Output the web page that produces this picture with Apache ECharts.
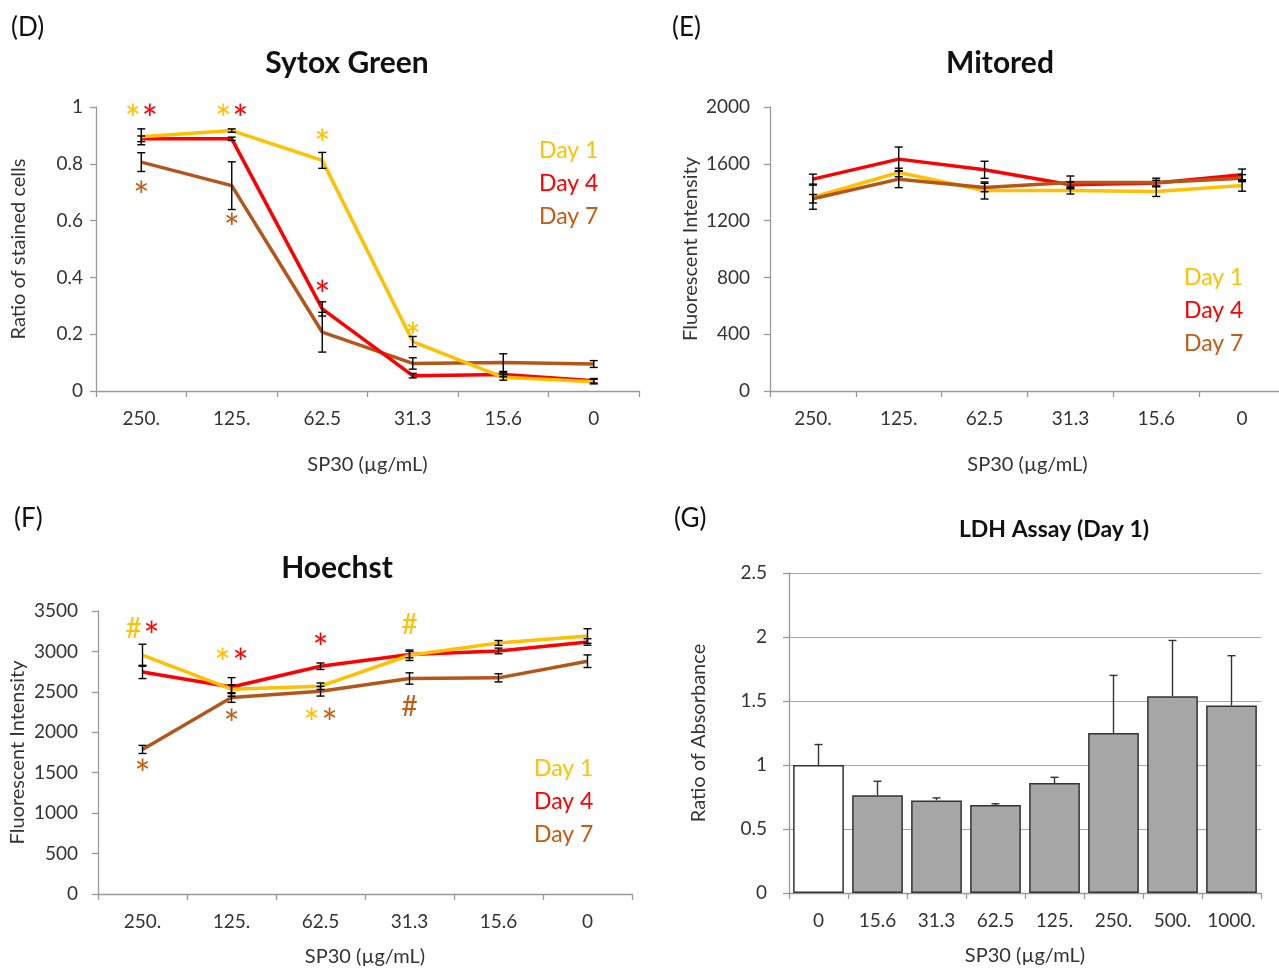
<!DOCTYPE html>
<html><head><meta charset="utf-8">
<script src="https://cdn.jsdelivr.net/npm/echarts@6/dist/echarts.min.js"></script>
<style>html,body{margin:0;padding:0;background:#fff}#c{width:1279px;height:970px}</style>
</head><body><div id="c"></div>
<script>
// ---------- data ----------
const doseCats = ['250.', '125.', '62.5', '31.3', '15.6', '0'];
const dayNames = ['Day 1', 'Day 4', 'Day 7'];

// (D) Sytox Green – ratio of stained cells
const sytoxDay1 = [0.895, 0.917, 0.812, 0.174, 0.048, 0.033];
const sytoxDay4 = [0.888, 0.888, 0.289, 0.054, 0.058, 0.036];
const sytoxDay7 = [0.806, 0.723, 0.207, 0.097, 0.100, 0.095];
const sytoxErr1 = [0.028, 0.006, 0.028, 0.018, 0.010, 0.008];
const sytoxErr4 = [0.010, 0.006, 0.025, 0.008, 0.008, 0.008];
const sytoxErr7 = [0.033, 0.084, 0.070, 0.020, 0.031, 0.012];
const sytoxMarks = [
  ['250.', 0.982, '*', 'Day 1'], ['250.', 0.982, '*', 'Day 4'],
  ['125.', 0.985, '*', 'Day 1'], ['125.', 0.985, '*', 'Day 4'],
  ['62.5', 0.894, '*', 'Day 1'],
  ['250.', 0.711, '*', 'Day 7'], ['125.', 0.599, '*', 'Day 7'],
  ['62.5', 0.363, '*', 'Day 4'], ['31.3', 0.215, '*', 'Day 1']
];

// (E) Mitored – fluorescent intensity
const mitoDay1 = [1365, 1539, 1412, 1412, 1405, 1447];
const mitoDay4 = [1492, 1633, 1558, 1452, 1464, 1523];
const mitoDay7 = [1354, 1492, 1433, 1469, 1469, 1499];
const mitoErr1 = [85, 30, 60, 25, 35, 40];
const mitoErr4 = [35, 85, 60, 20, 20, 40];
const mitoErr7 = [30, 60, 30, 45, 30, 25];

// (F) Hoechst – fluorescent intensity
const hoeDay1 = [2953, 2533, 2570, 2953, 3105, 3191];
const hoeDay4 = [2746, 2561, 2817, 2961, 3006, 3117];
const hoeDay7 = [1788, 2430, 2508, 2665, 2673, 2879];
const hoeErr1 = [136, 54, 40, 65, 30, 90];
const hoeErr4 = [82, 115, 40, 40, 35, 40];
const hoeErr7 = [50, 60, 60, 70, 50, 78];
const hoechstMarks = [
  ['250.', 3280, '#', 'Day 1'], ['250.', 3280, '*', 'Day 4'],
  ['125.', 2944, '*', 'Day 1'], ['125.', 2944, '*', 'Day 4'],
  ['125.', 2199, '*', 'Day 7'], ['250.', 1573, '*', 'Day 7'],
  ['62.5', 3138, '*', 'Day 4'],
  ['62.5', 2211, '*', 'Day 1'], ['62.5', 2211, '*', 'Day 7'],
  ['31.3', 3323, '#', 'Day 1'], ['31.3', 2314, '#', 'Day 7']
];

// (G) LDH assay (Day 1)
const ldhCats = ['0', '15.6', '31.3', '62.5', '125.', '250.', '500.', '1000.'];
const ldhVals = [1.00, 0.763, 0.723, 0.687, 0.859, 1.25, 1.538, 1.464];
const ldhErr  = [0.16, 0.11, 0.02, 0.01, 0.045, 0.45, 0.435, 0.39];

// ---------- style ----------
const FONT = 'Lato';
const TXT = '#333';
const AX = '#9a9a9a';
const lineCol = {'Day 1': '#FFC000', 'Day 4': '#FF0000', 'Day 7': '#B4561A'};
const textCol = {'Day 1': '#FFC000', 'Day 4': '#FF0000', 'Day 7': '#C55A11'};

function lineSeries(name, data, idx) {
  return {type: 'line', name, data, xAxisIndex: idx, yAxisIndex: idx, symbol: 'none',
    lineStyle: {width: 3.5, color: lineCol[name]}, itemStyle: {color: lineCol[name]}, z: 2};
}
function errSeries(vals, errs, idx, oneSided, color) {
  return {type: 'custom', xAxisIndex: idx, yAxisIndex: idx, z: 5, silent: true,
    data: vals.map((v, i) => [i, v, errs[i]]),
    encode: {x: 0, y: 1},
    renderItem(params, api) {
      const i = api.value(0), v = api.value(1), e = api.value(2);
      const lo = api.coord([i, oneSided ? v : v - e]);
      const hi = api.coord([i, v + e]);
      const w = 4;
      const st = {stroke: color || '#000', lineWidth: 1.4};
      const ch = [
        {type: 'line', shape: {x1: hi[0], y1: hi[1], x2: lo[0], y2: lo[1]}, style: st},
        {type: 'line', shape: {x1: hi[0] - w, y1: hi[1], x2: hi[0] + w, y2: hi[1]}, style: st}
      ];
      if (!oneSided) ch.push({type: 'line', shape: {x1: lo[0] - w, y1: lo[1], x2: lo[0] + w, y2: lo[1]}, style: st});
      return {type: 'group', children: ch};
    }};
}
function markSeries(marks, cats, idx, spacing) {
  const items = marks.map(m => {
    const same = marks.filter(o => o[0] === m[0] && o[1] === m[1]);
    const pos = same.indexOf(m) - (same.length - 1) / 2;
    return {value: [cats.indexOf(m[0]), m[1], pos], text: m[2], color: textCol[m[3]]};
  });
  return {type: 'custom', xAxisIndex: idx, yAxisIndex: idx, z: 6, silent: true,
    data: items.map(d => d.value), encode: {x: 0, y: 1},
    renderItem(params, api) {
      const d = items[params.dataIndex];
      const p = api.coord([api.value(0), api.value(1)]);
      const fs = d.text === '*' ? 38 : 28;
      return {type: 'text', x: p[0] + api.value(2) * spacing,
        y: p[1] + (d.text === '*' ? fs * 0.24 : 0),
        style: {text: d.text, fill: d.color, font: fs + 'px ' + FONT, align: 'center', verticalAlign: 'middle'}};
    }};
}
function legendAt(left, top) {
  return {left, top, orient: 'vertical', icon: 'none', itemWidth: 0, itemHeight: 23, itemGap: 10,
    selectedMode: false, padding: 0,
    data: dayNames.map(n => ({name: n, textStyle: {color: textCol[n], fontSize: 23, fontFamily: FONT}}))};
}
function catAxis(idx, cats) {
  return {type: 'category', gridIndex: idx, data: cats,
    axisLine: {show: true, lineStyle: {color: AX, width: 1.3}},
    axisTick: {show: true, length: 6, lineStyle: {color: AX, width: 1.3}},
    axisLabel: {color: TXT, fontSize: 19, fontFamily: FONT, margin: 18, interval: 0},
    name: 'SP30 (µg/mL)', nameLocation: 'middle', nameGap: idx < 2 ? 64 : 53,
    nameTextStyle: {color: TXT, fontSize: 20, fontFamily: FONT}};
}
function valAxis(idx, max, interval, name, gap, margin, grid) {
  return {type: 'value', gridIndex: idx, min: 0, max, interval,
    axisLine: {show: true, lineStyle: {color: AX, width: 1.3}},
    axisTick: {show: true, length: 6, lineStyle: {color: AX, width: 1.3}},
    axisLabel: {color: TXT, fontSize: 19, fontFamily: FONT, margin, formatter: v => String(v)},
    splitLine: {show: !!grid, lineStyle: {color: '#a6a6a6', width: 1.2}},
    name, nameLocation: 'middle', nameGap: gap,
    nameTextStyle: {color: TXT, fontSize: 20, fontFamily: FONT}};
}
function panelTitle(text, cx, top, size) {
  return {text, left: cx, top, textAlign: 'center', padding: 0,
    textStyle: {fontFamily: FONT, fontWeight: 'bold', fontSize: size, color: '#111'}};
}
function letter(text, x, y) {
  return {type: 'text', x, y, style: {text, font: '26px ' + FONT, fill: '#111', verticalAlign: 'middle'}};
}

const chart = echarts.init(document.getElementById('c'));
chart.setOption({
  animation: false,
  backgroundColor: '#fff',
  textStyle: {fontFamily: FONT},
  title: [
    panelTitle('Sytox Green', 347, 48, 30),
    panelTitle('Mitored', 1000, 48, 30),
    panelTitle('Hoechst', 337, 553, 30),
    panelTitle('LDH Assay (Day 1)', 1054, 518, 23)
  ],
  legend: [legendAt(534, 139), legendAt(1179, 266), legendAt(529, 757)],
  graphic: [letter('(D)', 11, 28), letter('(E)', 672, 28), letter('(F)', 14, 519), letter('(G)', 674, 519)],
  grid: [
    {left: 96, top: 107, width: 543, height: 284, outerBoundsMode: 'none'},
    {left: 770, top: 107, width: 515, height: 284, outerBoundsMode: 'none'},
    {left: 98, top: 611, width: 534, height: 283, outerBoundsMode: 'none'},
    {left: 789, top: 573, width: 472, height: 320, outerBoundsMode: 'none'}
  ],
  xAxis: [catAxis(0, doseCats), catAxis(1, doseCats), catAxis(2, doseCats), catAxis(3, ldhCats)],
  yAxis: [
    valAxis(0, 1, 0.2, 'Ratio of stained cells', 67, 13, false),
    valAxis(1, 2000, 400, 'Fluorescent Intensity', 69, 20, false),
    valAxis(2, 3500, 500, 'Fluorescent Intensity', 70, 20, false),
    valAxis(3, 2.5, 0.5, 'Ratio of Absorbance', 80, 22, true)
  ],
  series: [
    lineSeries('Day 7', sytoxDay7, 0), lineSeries('Day 4', sytoxDay4, 0), lineSeries('Day 1', sytoxDay1, 0),
    errSeries(sytoxDay1, sytoxErr1, 0), errSeries(sytoxDay4, sytoxErr4, 0), errSeries(sytoxDay7, sytoxErr7, 0),
    markSeries(sytoxMarks, doseCats, 0, 17),

    lineSeries('Day 1', mitoDay1, 1), lineSeries('Day 4', mitoDay4, 1), lineSeries('Day 7', mitoDay7, 1),
    errSeries(mitoDay1, mitoErr1, 1), errSeries(mitoDay4, mitoErr4, 1), errSeries(mitoDay7, mitoErr7, 1),

    lineSeries('Day 7', hoeDay7, 2), lineSeries('Day 4', hoeDay4, 2), lineSeries('Day 1', hoeDay1, 2),
    errSeries(hoeDay1, hoeErr1, 2), errSeries(hoeDay4, hoeErr4, 2), errSeries(hoeDay7, hoeErr7, 2),
    markSeries(hoechstMarks, doseCats, 2, 18),

    {type: 'bar', name: 'LDH', xAxisIndex: 3, yAxisIndex: 3, barCategoryGap: '14%', z: 2,
      itemStyle: {color: '#A6A6A6', borderColor: '#333', borderWidth: 1.5},
      data: ldhVals.map((v, i) => i === 0 ? {value: v, itemStyle: {color: '#fff'}} : v)},
    errSeries(ldhVals, ldhErr, 3, true, '#333')
  ]
});
</script></body></html>
